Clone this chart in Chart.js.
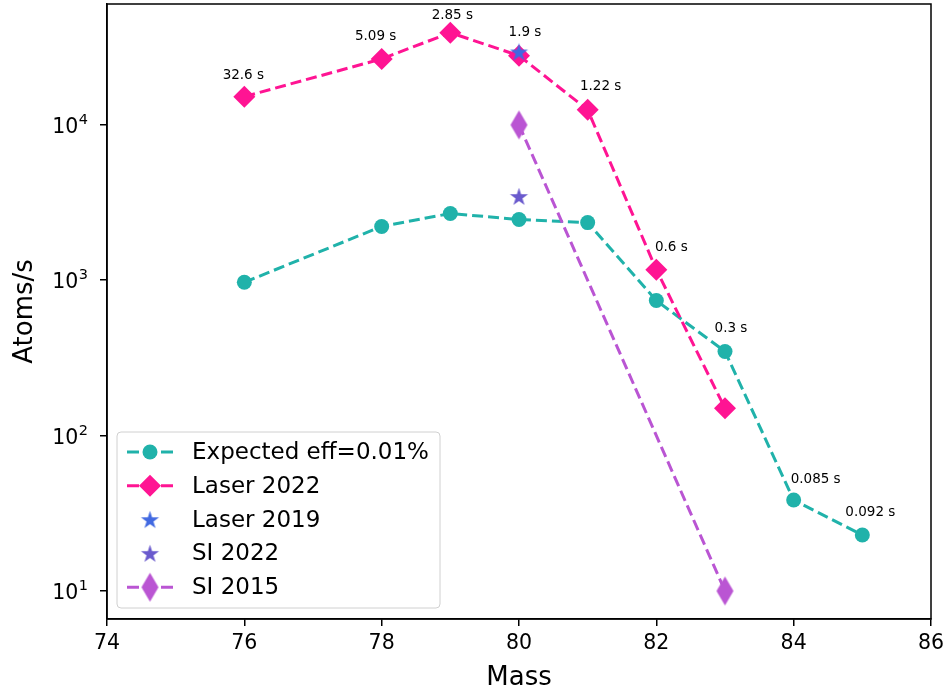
<!DOCTYPE html>
<html lang="en">
<head>
  <meta charset="UTF-8" />
  <title>Atoms/s vs Mass</title>
  <script src="https://cdn.jsdelivr.net/npm/chart.js"></script>
  <style>
    html, body { margin: 0; padding: 0; background: #fff; }
    .chart-container { position: relative; width: 948px; height: 694px; }
  </style>
</head>
<body>
  <div class="chart-container">
    <canvas id="atomsChart"></canvas>
  </div>

  <script>
    // Data
    const expectedMass = [76, 78, 79, 80, 81, 82, 83, 84, 85];
    const expectedRate = [970, 2220, 2690, 2460, 2350, 740, 348, 38.5, 22.9];
    const expectedLabels = ['', '', '', '', '', '', '0.3 s', '0.085 s', '0.092 s'];

    const laser2022Mass = [76, 78, 79, 80, 81, 82, 83];
    const laser2022Rate = [15200, 26600, 39200, 27900, 12500, 1170, 150];
    const laser2022Labels = ['32.6 s', '5.09 s', '2.85 s', '1.9 s', '1.22 s', '0.6 s', ''];

    const laser2019Mass = [80];
    const laser2019Rate = [29500];

    const si2022Mass = [80];
    const si2022Rate = [3460];

    const si2015Mass = [80, 83];
    const si2015Rate = [10000, 10];

    const yTicks = [10, 100, 1000, 10000];
    const yTickExp = ['1', '2', '3', '4'];

    const toXY = (xs, ys) => xs.map((x, i) => ({ x: x, y: ys[i] }));

    // marker images (filled star, thin diamond)
    function starCanvas(color, r) {
      const c = document.createElement('canvas');
      const s = Math.ceil(r * 2 + 2);
      c.width = s; c.height = s;
      const g = c.getContext('2d');
      const cx = s / 2, cy = s / 2 + 0.8, ri = r * 0.382;
      g.beginPath();
      for (let i = 0; i < 10; i++) {
        const a = -Math.PI / 2 + i * Math.PI / 5;
        const rr = i % 2 === 0 ? r : ri;
        g.lineTo(cx + rr * Math.cos(a), cy + rr * Math.sin(a));
      }
      g.closePath();
      g.fillStyle = color;
      g.fill();
      return c;
    }

    function thinDiamondCanvas(color, w, h) {
      const c = document.createElement('canvas');
      c.width = w + 2; c.height = h + 2;
      const g = c.getContext('2d');
      const cx = c.width / 2, cy = c.height / 2;
      g.beginPath();
      g.moveTo(cx, cy - h / 2);
      g.lineTo(cx + w / 2, cy);
      g.lineTo(cx, cy + h / 2);
      g.lineTo(cx - w / 2, cy);
      g.closePath();
      g.fillStyle = color;
      g.fill();
      return c;
    }

    const teal = '#20B2AA';
    const pink = '#FF1493';
    const royal = '#4169E1';
    const slate = '#6A5ACD';
    const orchid = '#BA55D3';

    const starRoyal = starCanvas(royal, 9.5);
    const starSlate = starCanvas(slate, 9.5);
    const dThin = thinDiamondCanvas(orchid, 17, 29);

    const dash = [11, 5];

    // annotation texts drawn next to the points
    const annotations = {
      id: 'annotations',
      afterDatasetsDraw(chart) {
        const ctx = chart.ctx;
        ctx.save();
        ctx.font = '13.5px "DejaVu Sans"';
        ctx.fillStyle = '#000';
        ctx.textAlign = 'center';
        ctx.textBaseline = 'middle';
        const put = (dsIndex, labels, offsets) => {
          const meta = chart.getDatasetMeta(dsIndex);
          labels.forEach((t, i) => {
            if (!t) return;
            const p = meta.data[i];
            const o = offsets[i];
            ctx.fillText(t, p.x + o[0], p.y + o[1]);
          });
        };
        put(1, laser2022Labels, [[-1, -21], [-6, -22], [2, -17], [6, -23], [13, -23], [15, -22], [0, 0]]);
        put(0, expectedLabels, [[0,0],[0,0],[0,0],[0,0],[0,0],[0,0], [6, -23], [22, -21], [8, -23]]);
        ctx.restore();
      }
    };

    // y tick labels as 10 with a raised exponent
    const powerTicks = {
      id: 'powerTicks',
      afterDraw(chart) {
        const ctx = chart.ctx;
        const y = chart.scales.y;
        ctx.save();
        ctx.fillStyle = '#000';
        ctx.textBaseline = 'alphabetic';
        yTicks.forEach((v, i) => {
          const py = y.getPixelForValue(v);
          ctx.font = '14.5px "DejaVu Sans"';
          const ew = ctx.measureText(yTickExp[i]).width;
          const right = 88;
          ctx.textAlign = 'right';
          ctx.fillText(yTickExp[i], right, py - 1);
          ctx.font = '20.5px "DejaVu Sans"';
          ctx.fillText('10', right - ew - 0.5, py + 8);
        });
        ctx.restore();
      }
    };

    // frame around the plot + matplotlib-like legend
    const frameAndLegend = {
      id: 'frameAndLegend',
      afterDraw(chart) {
        const ctx = chart.ctx;
        const a = chart.chartArea;
        ctx.save();
        ctx.strokeStyle = '#000';
        ctx.lineWidth = 1.5;
        ctx.strokeRect(a.left, a.top, a.right - a.left, a.bottom - a.top);

        // legend box
        const bx = 117, by = 432, bw = 323, bh = 176, r = 4;
        ctx.beginPath();
        ctx.moveTo(bx + r, by);
        ctx.arcTo(bx + bw, by, bx + bw, by + bh, r);
        ctx.arcTo(bx + bw, by + bh, bx, by + bh, r);
        ctx.arcTo(bx, by + bh, bx, by, r);
        ctx.arcTo(bx, by, bx + bw, by, r);
        ctx.closePath();
        ctx.fillStyle = 'rgba(255,255,255,0.8)';
        ctx.fill();
        ctx.strokeStyle = '#d0d0d0';
        ctx.lineWidth = 1;
        ctx.stroke();

        const rows = [
          { text: 'Expected eff=0.01%', color: teal, line: true, marker: 'circle' },
          { text: 'Laser 2022', color: pink, line: true, marker: 'diamond' },
          { text: 'Laser 2019', color: royal, line: false, marker: starRoyal },
          { text: 'SI 2022', color: slate, line: false, marker: starSlate },
          { text: 'SI 2015', color: orchid, line: true, marker: dThin }
        ];
        const mx = 150;
        ctx.font = '23px "DejaVu Sans"';
        ctx.textAlign = 'left';
        ctx.textBaseline = 'middle';
        rows.forEach((row, i) => {
          const y = 452 + i * 33.8;
          if (row.line) {
            ctx.strokeStyle = row.color;
            ctx.lineWidth = 3;
            ctx.beginPath();
            ctx.moveTo(127, y); ctx.lineTo(139, y);
            ctx.moveTo(161, y); ctx.lineTo(173, y);
            ctx.stroke();
          }
          ctx.fillStyle = row.color;
          if (row.marker === 'circle') {
            ctx.beginPath();
            ctx.arc(mx, y, 7.5, 0, Math.PI * 2);
            ctx.fill();
          } else if (row.marker === 'diamond') {
            ctx.beginPath();
            ctx.moveTo(mx, y - 11); ctx.lineTo(mx + 11, y);
            ctx.lineTo(mx, y + 11); ctx.lineTo(mx - 11, y);
            ctx.closePath();
            ctx.fill();
          } else {
            ctx.drawImage(row.marker, mx - row.marker.width / 2, y - row.marker.height / 2);
          }
          ctx.fillStyle = '#000';
          ctx.fillText(row.text, 192, y + 1);
        });
        ctx.restore();
      }
    };

    Chart.defaults.font.family = '"DejaVu Sans", sans-serif';
    Chart.defaults.color = '#000';

    new Chart(document.getElementById('atomsChart'), {
      type: 'line',
      data: {
        datasets: [
          {
            label: 'Expected eff=0.01%',
            data: toXY(expectedMass, expectedRate),
            borderColor: teal,
            backgroundColor: teal,
            borderWidth: 3,
            borderDash: dash,
            pointStyle: 'circle',
            pointRadius: 7.5,
            pointBorderWidth: 0,
            order: 5
          },
          {
            label: 'Laser 2022',
            data: toXY(laser2022Mass, laser2022Rate),
            borderColor: pink,
            backgroundColor: pink,
            borderWidth: 3,
            borderDash: dash,
            pointStyle: 'rectRot',
            pointRadius: 11,
            pointBorderWidth: 0,
            order: 4
          },
          {
            label: 'Laser 2019',
            data: toXY(laser2019Mass, laser2019Rate),
            showLine: false,
            pointStyle: starRoyal,
            order: 3
          },
          {
            label: 'SI 2022',
            data: toXY(si2022Mass, si2022Rate),
            showLine: false,
            pointStyle: starSlate,
            order: 2
          },
          {
            label: 'SI 2015',
            data: toXY(si2015Mass, si2015Rate),
            borderColor: orchid,
            backgroundColor: orchid,
            borderWidth: 3,
            borderDash: dash,
            pointStyle: dThin,
            order: 1
          }
        ]
      },
      options: {
        responsive: true,
        maintainAspectRatio: false,
        animation: false,
        layout: { autoPadding: false, padding: { top: 4, right: 17, left: 0, bottom: 0 } },
        plugins: {
          legend: { display: false },
          tooltip: { enabled: false }
        },
        scales: {
          x: {
            type: 'linear',
            min: 74,
            max: 86,
            afterFit: s => { s.height = 75; s.paddingLeft = 0; s.paddingRight = 0; },
            ticks: { stepSize: 2, font: { size: 20.5 }, padding: 5, maxRotation: 0 },
            grid: { drawOnChartArea: false, drawTicks: true, tickLength: 7, color: '#000', lineWidth: 1.5 },
            border: { display: true, color: '#000', width: 1.5 },
            title: { display: true, text: 'Mass', font: { size: 26 }, padding: { top: 0, bottom: 0 } }
          },
          y: {
            type: 'logarithmic',
            min: 6.6,
            max: 60000,
            bounds: 'data',
            afterFit: s => { s.width = 107; s.paddingTop = 0; s.paddingBottom = 0; },
            afterBuildTicks: s => { s.ticks = yTicks.map(v => ({ value: v })); },
            ticks: { callback: () => '' },
            grid: { drawOnChartArea: false, drawTicks: true, tickLength: 7, color: '#000', lineWidth: 1.5 },
            border: { display: true, color: '#000', width: 1.5 },
            title: { display: true, text: 'Atoms/s', font: { size: 26 }, padding: { top: 10, bottom: 0 } }
          }
        }
      },
      plugins: [annotations, powerTicks, frameAndLegend]
    });
  </script>
</body>
</html>
